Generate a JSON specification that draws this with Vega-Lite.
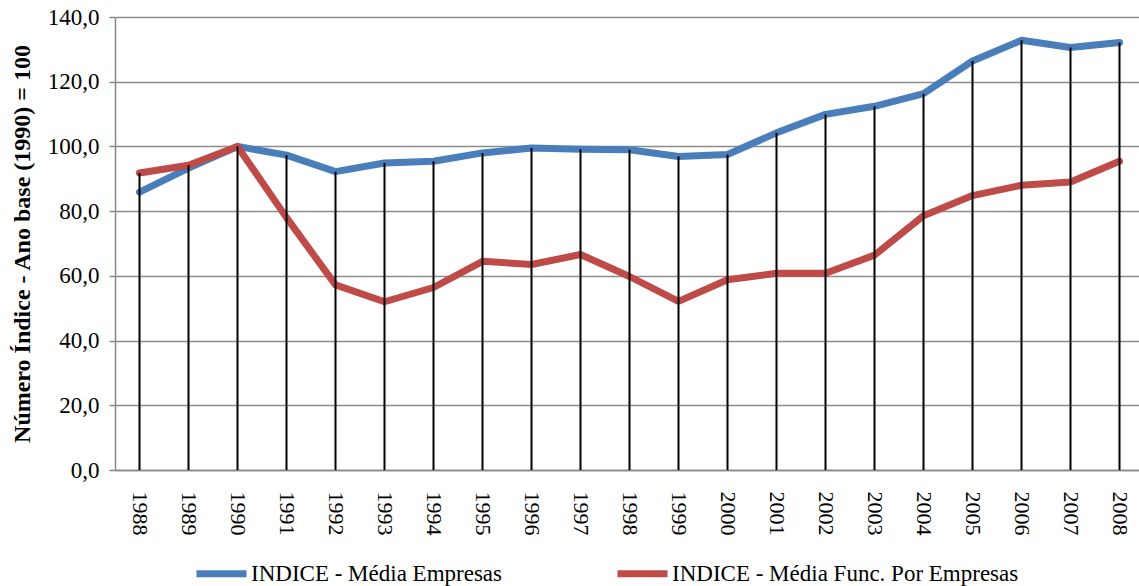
{
  "$schema": "https://vega.github.io/schema/vega-lite/v6.json",
  "autosize": {"type": "none"},
  "padding": {"left": 115, "top": 17, "right": 0, "bottom": 116},
  "width": 1029,
  "height": 453,
  "background": "white",
  "config": {
    "font": "Liberation Serif",
    "view": {"stroke": null}
  },
  "data": {
    "values": [
      {"year": "1988", "series": "INDICE - Média Empresas", "value": 85.9},
      {"year": "1989", "series": "INDICE - Média Empresas", "value": 93.3},
      {"year": "1990", "series": "INDICE - Média Empresas", "value": 100.0},
      {"year": "1991", "series": "INDICE - Média Empresas", "value": 97.3},
      {"year": "1992", "series": "INDICE - Média Empresas", "value": 92.2},
      {"year": "1993", "series": "INDICE - Média Empresas", "value": 94.9},
      {"year": "1994", "series": "INDICE - Média Empresas", "value": 95.4},
      {"year": "1995", "series": "INDICE - Média Empresas", "value": 98.0},
      {"year": "1996", "series": "INDICE - Média Empresas", "value": 99.5},
      {"year": "1997", "series": "INDICE - Média Empresas", "value": 99.1},
      {"year": "1998", "series": "INDICE - Média Empresas", "value": 99.0},
      {"year": "1999", "series": "INDICE - Média Empresas", "value": 96.9},
      {"year": "2000", "series": "INDICE - Média Empresas", "value": 97.5},
      {"year": "2001", "series": "INDICE - Média Empresas", "value": 104.2},
      {"year": "2002", "series": "INDICE - Média Empresas", "value": 109.9},
      {"year": "2003", "series": "INDICE - Média Empresas", "value": 112.4},
      {"year": "2004", "series": "INDICE - Média Empresas", "value": 116.3},
      {"year": "2005", "series": "INDICE - Média Empresas", "value": 126.4},
      {"year": "2006", "series": "INDICE - Média Empresas", "value": 132.8},
      {"year": "2007", "series": "INDICE - Média Empresas", "value": 130.6},
      {"year": "2008", "series": "INDICE - Média Empresas", "value": 132.1},
      {"year": "1988", "series": "INDICE - Média Func. Por  Empresas", "value": 91.8},
      {"year": "1989", "series": "INDICE - Média Func. Por  Empresas", "value": 94.2},
      {"year": "1990", "series": "INDICE - Média Func. Por  Empresas", "value": 100.0},
      {"year": "1991", "series": "INDICE - Média Func. Por  Empresas", "value": 78.0},
      {"year": "1992", "series": "INDICE - Média Func. Por  Empresas", "value": 57.2},
      {"year": "1993", "series": "INDICE - Média Func. Por  Empresas", "value": 52.0},
      {"year": "1994", "series": "INDICE - Média Func. Por  Empresas", "value": 56.4},
      {"year": "1995", "series": "INDICE - Média Func. Por  Empresas", "value": 64.5},
      {"year": "1996", "series": "INDICE - Média Func. Por  Empresas", "value": 63.5},
      {"year": "1997", "series": "INDICE - Média Func. Por  Empresas", "value": 66.6},
      {"year": "1998", "series": "INDICE - Média Func. Por  Empresas", "value": 59.8},
      {"year": "1999", "series": "INDICE - Média Func. Por  Empresas", "value": 52.1},
      {"year": "2000", "series": "INDICE - Média Func. Por  Empresas", "value": 58.8},
      {"year": "2001", "series": "INDICE - Média Func. Por  Empresas", "value": 60.8},
      {"year": "2002", "series": "INDICE - Média Func. Por  Empresas", "value": 60.8},
      {"year": "2003", "series": "INDICE - Média Func. Por  Empresas", "value": 66.4},
      {"year": "2004", "series": "INDICE - Média Func. Por  Empresas", "value": 78.6},
      {"year": "2005", "series": "INDICE - Média Func. Por  Empresas", "value": 84.8},
      {"year": "2006", "series": "INDICE - Média Func. Por  Empresas", "value": 88.0},
      {"year": "2007", "series": "INDICE - Média Func. Por  Empresas", "value": 89.0},
      {"year": "2008", "series": "INDICE - Média Func. Por  Empresas", "value": 95.4}
    ]
  },
  "encoding": {
    "x": {
      "field": "year",
      "type": "ordinal",
      "scale": {"type": "point", "padding": 0.5},
      "axis": {
        "title": null,
        "labelAngle": 90,
        "labelFontSize": 22,
        "labelColor": "black",
        "labelPadding": 21,
        "ticks": false,
        "domainColor": "#888888",
        "domainWidth": 1.5,
        "grid": false
      }
    }
  },
  "layer": [
    {
      "mark": {"type": "line", "strokeWidth": 7, "strokeCap": "round", "strokeJoin": "round"},
      "encoding": {
        "y": {
          "field": "value",
          "type": "quantitative",
          "scale": {"domain": [0, 140], "nice": false},
          "axis": {
            "values": [0, 20, 40, 60, 80, 100, 120, 140],
            "labelExpr": "replace(format(datum.value, '.1f'), '.', ',')",
            "labelFontSize": 23,
            "labelColor": "black",
            "labelPadding": 10,
            "tickSize": 6,
            "tickColor": "#888888",
            "tickWidth": 1.5,
            "domainColor": "#888888",
            "domainWidth": 1.5,
            "gridColor": "#8c8c8c",
            "gridWidth": 1.5,
            "title": "Número Índice - Ano base (1990) = 100",
            "titleFontSize": 24,
            "titleFontWeight": "bold",
            "titleColor": "black",
            "titlePadding": 13
          }
        },
        "color": {
          "field": "series",
          "type": "nominal",
          "scale": {
            "domain": ["INDICE - Média Empresas", "INDICE - Média Func. Por  Empresas"],
            "range": ["#4A7EBB", "#BE4B48"]
          },
          "legend": {
            "title": null,
            "orient": "none",
            "direction": "horizontal",
            "legendX": 78,
            "legendY": 528,
            "symbolType": "stroke",
            "symbolSize": 2500,
            "symbolStrokeWidth": 7,
            "labelFontSize": 23,
            "labelColor": "black",
            "labelLimit": 500,
            "symbolOffset": 0,
            "labelOffset": 1,
            "columnPadding": 100
          }
        }
      }
    },
    {
      "transform": [
        {"aggregate": [{"op": "max", "field": "value", "as": "maxv"}], "groupby": ["year"]}
      ],
      "mark": {"type": "rule", "color": "black", "strokeWidth": 2},
      "encoding": {
        "y": {"field": "maxv", "type": "quantitative"},
        "y2": {"datum": 0}
      }
    }
  ]
}
